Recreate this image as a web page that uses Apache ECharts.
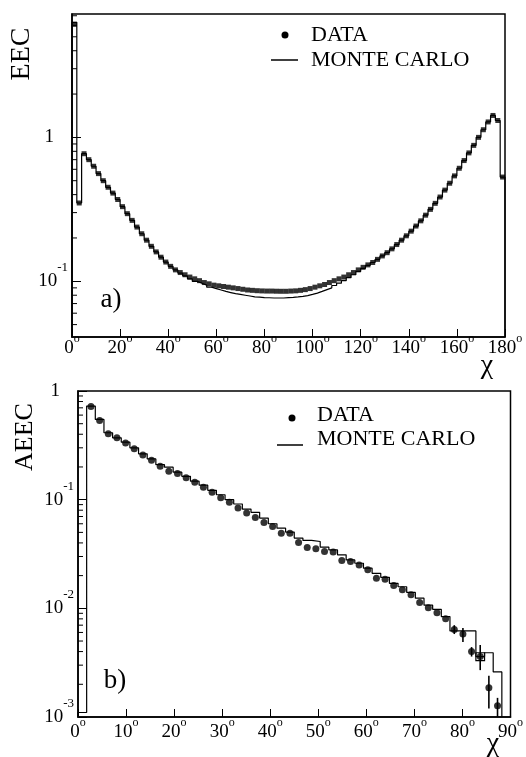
<!DOCTYPE html>
<html><head><meta charset="utf-8">
<script src="https://cdn.jsdelivr.net/npm/echarts@6/dist/echarts.min.js"></script>
<style>html,body{margin:0;padding:0;background:#fff}#c{width:526px;height:757px}</style>
</head><body><div id="c"></div>
<script>
// ---------- panel a) EEC : 90 bins of 2 degrees ----------
const EEC_START = 0, EEC_WIDTH = 2;
const EEC_YMIN = 0.041, EEC_YMAX = 7.2;
const eecData = [6.1, 0.35, 0.77, 0.70, 0.63, 0.56, 0.50, 0.45, 0.41, 0.37,
  0.33, 0.295, 0.265, 0.238, 0.214, 0.193, 0.175, 0.160, 0.147, 0.136,
  0.127, 0.120, 0.115, 0.111, 0.107, 0.104, 0.101, 0.098, 0.096, 0.094,
  0.093, 0.092, 0.091, 0.090, 0.089, 0.088, 0.087, 0.0865, 0.086, 0.0857,
  0.0855, 0.0855, 0.0853, 0.0852, 0.0852, 0.0855, 0.0858, 0.0865, 0.0875, 0.089,
  0.091, 0.093, 0.095, 0.098, 0.101, 0.104, 0.107, 0.111, 0.115, 0.120,
  0.125, 0.130, 0.135, 0.142, 0.150, 0.158, 0.168, 0.180, 0.193, 0.207,
  0.223, 0.242, 0.263, 0.288, 0.316, 0.348, 0.385, 0.43, 0.48, 0.54,
  0.61, 0.69, 0.78, 0.88, 1.0, 1.13, 1.28, 1.42, 1.31, 0.53];
const eecMC = [6.3, 0.35, 0.77, 0.70, 0.63, 0.56, 0.50, 0.45, 0.41, 0.37,
  0.33, 0.295, 0.265, 0.238, 0.214, 0.193, 0.175, 0.160, 0.147, 0.136,
  0.127, 0.120, 0.114, 0.109, 0.104, 0.100, 0.097, 0.094, 0.091, 0.089,
  0.087, 0.085, 0.0835, 0.082, 0.081, 0.080, 0.079, 0.078, 0.0775, 0.077,
  0.0768, 0.0765, 0.0765, 0.0765, 0.077, 0.0772, 0.0778, 0.0786, 0.0795, 0.081,
  0.0828, 0.085, 0.0875, 0.090, 0.0935, 0.097, 0.101, 0.106, 0.111, 0.117,
  0.123, 0.129, 0.135, 0.142, 0.150, 0.158, 0.168, 0.180, 0.193, 0.207,
  0.223, 0.242, 0.263, 0.288, 0.316, 0.348, 0.385, 0.43, 0.48, 0.54,
  0.61, 0.69, 0.78, 0.88, 1.0, 1.13, 1.28, 1.42, 1.31, 0.53];

// ---------- panel b) AEEC : bins of 1.8 degrees ----------
const AEEC_START = 0, AEEC_WIDTH = 1.8;
const AEEC_YMIN = 0.001, AEEC_YMAX = 1;
const aeecData = [null, 0.72, 0.536, 0.404, 0.371, 0.333, 0.294, 0.257, 0.231, 0.203,
  0.183, 0.174, 0.159, 0.145, 0.130, 0.117, 0.104, 0.0945, 0.0838, 0.0753,
  0.0687, 0.0618, 0.0567, 0.0492, 0.0492, 0.0404, 0.0363, 0.0353, 0.0334, 0.033,
  0.0275, 0.027, 0.0251, 0.0226, 0.0189, 0.0185, 0.0162, 0.0148, 0.0133, 0.0113,
  0.0101, 0.0091, 0.0080, 0.0064, 0.0058, 0.0040, 0.0036, 0.00186, 0.00127];
const aeecErrLo = [null, null, null, null, null, null, null, null, null, null,
  null, null, null, null, null, null, null, null, null, null,
  null, null, null, null, null, null, null, null, null, null,
  null, null, null, null, null, null, null, null, null, null,
  null, null, null, 0.0058, 0.0049, 0.0036, 0.0027, 0.0012, 0.00100];
const aeecErrHi = [null, null, null, null, null, null, null, null, null, null,
  null, null, null, null, null, null, null, null, null, null,
  null, null, null, null, null, null, null, null, null, null,
  null, null, null, null, null, null, null, null, null, null,
  null, null, null, 0.0070, 0.0066, 0.0044, 0.0046, 0.0024, 0.0015];
const aeecMC = [0.0011, 0.727, 0.548, 0.413, 0.371, 0.338, 0.300, 0.264, 0.237, 0.210,
  0.199, 0.179, 0.164, 0.148, 0.136, 0.122, 0.111, 0.100, 0.0912, 0.082,
  0.0764, 0.0677, 0.060, 0.0547, 0.0503, 0.0443, 0.0422, 0.0412, 0.0366, 0.0345,
  0.0311, 0.0279, 0.026, 0.0234, 0.021, 0.0193, 0.017, 0.0158, 0.014, 0.0124,
  0.0107, 0.0098, 0.0084, 0.0062, 0.0062, 0.0062, 0.0036, 0.0039, 0.0026];
const aeecMCErrLo = [null, null, null, null, null, null, null, null, null, null,
  null, null, null, null, null, null, null, null, null, null,
  null, null, null, null, null, null, null, null, null, null,
  null, null, null, null, null, null, null, null, null, null,
  null, null, null, null, null, null, 0.0033, null, null];
const aeecMCErrHi = [null, null, null, null, null, null, null, null, null, null,
  null, null, null, null, null, null, null, null, null, null,
  null, null, null, null, null, null, null, null, null, null,
  null, null, null, null, null, null, null, null, null, null,
  null, null, null, null, null, null, 0.0039, null, null];

const SERIF = 'Liberation Serif';

function histSteps(start, width, vals, floor) {
  const pts = [[start, floor]];
  vals.forEach((v, i) => pts.push([start + i * width, v]));
  const end = start + vals.length * width;
  pts.push([end, vals[vals.length - 1]]);
  pts.push([end, floor]);
  return pts;
}
function centers(start, width, vals) {
  return vals.map((v, i) => v == null ? null : [start + (i + 0.5) * width, v]).filter(p => p);
}
function errRows(start, width, lo, hi) {
  const out = [];
  lo.forEach((l, i) => { if (l != null) out.push([start + (i + 0.5) * width, l, hi[i]]); });
  return out;
}
function minorVals(lo, hi) {
  const out = [];
  for (let e = -4; e <= 1; e++) for (let m = 2; m <= 9; m++) {
    const v = m * Math.pow(10, e);
    if (v > lo && v < hi) out.push(v);
  }
  return out;
}
function yLabel(v) {
  const e = Math.round(Math.log10(v));
  if (Math.abs(Math.log10(v) - e) > 1e-6) return '';
  if (e === 0) return '{b|1}{p|}';
  return '{b|10}{s|' + e + '}';
}
const yRich = {
  b: { fontFamily: SERIF, fontSize: 19, color: '#000', lineHeight: 40, verticalAlign: 'middle' },
  s: { fontFamily: SERIF, fontSize: 13, color: '#000', lineHeight: 13, verticalAlign: 'top' },
  p: { width: 14, lineHeight: 40 }
};
const xRich = {
  b: { fontFamily: SERIF, fontSize: 19, color: '#000', lineHeight: 30, verticalAlign: 'middle' },
  s: { fontFamily: SERIF, fontSize: 12, color: '#000', lineHeight: 12, verticalAlign: 'top' }
};

function minorTickSeries(xIdx, yIdx, xAt, lo, hi, len) {
  return {
    type: 'custom', xAxisIndex: xIdx, yAxisIndex: yIdx, silent: true, clip: false,
    data: minorVals(lo, hi).map(v => [xAt, v]),
    renderItem: function (params, api) {
      const p = api.coord([api.value(0), api.value(1)]);
      return { type: 'line', shape: { x1: p[0], y1: p[1], x2: p[0] + len, y2: p[1] },
               style: { stroke: '#000', lineWidth: 1 } };
    }
  };
}
function errSeries(xIdx, yIdx, rows) {
  return {
    type: 'custom', xAxisIndex: xIdx, yAxisIndex: yIdx, silent: true,
    data: rows,
    renderItem: function (params, api) {
      const a = api.coord([api.value(0), api.value(1)]);
      const b = api.coord([api.value(0), api.value(2)]);
      return { type: 'line', shape: { x1: a[0], y1: a[1], x2: b[0], y2: b[1] },
               style: { stroke: '#000', lineWidth: 1.6 } };
    }
  };
}
function boxSeries(xIdx, yIdx, start, width, lo, hi) {
  const rows = [];
  lo.forEach((l, i) => { if (l != null) rows.push([start + i * width, start + (i + 1) * width, l, hi[i]]); });
  return {
    type: 'custom', xAxisIndex: xIdx, yAxisIndex: yIdx, silent: true, data: rows,
    renderItem: function (params, api) {
      const a = api.coord([api.value(0), api.value(3)]);
      const b = api.coord([api.value(1), api.value(2)]);
      return { type: 'rect', shape: { x: a[0], y: a[1], width: b[0] - a[0], height: b[1] - a[1] },
               style: { fill: 'none', stroke: '#000', lineWidth: 1.2 } };
    }
  };
}

const axisLineStyle = { color: '#000', width: 1.5 };

const option = {
  animation: false,
  backgroundColor: '#fff',
  grid: [
    { left: 72, right: 21, top: 14, height: 323, show: true, borderColor: '#000', borderWidth: 1.5, backgroundColor: 'transparent' },
    { left: 78, right: 13, top: 391, height: 326, show: true, borderColor: '#000', borderWidth: 1.5, backgroundColor: 'transparent' }
  ],
  xAxis: [
    { type: 'value', gridIndex: 0, min: 0, max: 180, interval: 20,
      axisLine: { lineStyle: axisLineStyle }, splitLine: { show: false },
      axisTick: { inside: true, length: 8, lineStyle: { color: '#000' } },
      axisLabel: { margin: -4, formatter: v => '{b|' + v + '}{s|o}', rich: xRich } },
    { type: 'value', gridIndex: 1, min: 0, max: 90, interval: 10,
      axisLine: { lineStyle: axisLineStyle }, splitLine: { show: false },
      axisTick: { inside: true, length: 8, lineStyle: { color: '#000' } },
      axisLabel: { margin: 0, formatter: v => '{b|' + v + '}{s|o}', rich: xRich } }
  ],
  yAxis: [
    { type: 'log', logBase: 10, gridIndex: 0, min: EEC_YMIN, max: EEC_YMAX,
      axisLine: { lineStyle: axisLineStyle }, splitLine: { show: false },
      axisTick: { inside: true, length: 9, lineStyle: { color: '#000' } },
      axisLabel: { margin: 4, formatter: yLabel, rich: yRich, showMinLabel: false, showMaxLabel: false } },
    { type: 'log', logBase: 10, gridIndex: 1, min: AEEC_YMIN, max: AEEC_YMAX,
      axisLine: { lineStyle: axisLineStyle }, splitLine: { show: false },
      axisTick: { inside: true, length: 9, lineStyle: { color: '#000' } },
      axisLabel: { margin: 4, formatter: yLabel, rich: yRich } }
  ],
  series: [
    { name: 'MONTE CARLO', type: 'line', xAxisIndex: 0, yAxisIndex: 0, step: 'end', symbol: 'none',
      clip: true, lineStyle: { color: '#000', width: 1.2 },
      data: histSteps(EEC_START, EEC_WIDTH, eecMC, EEC_YMIN) },
    { name: 'DATA', type: 'scatter', xAxisIndex: 0, yAxisIndex: 0, symbol: 'rect', symbolSize: 5,
      itemStyle: { color: '#000' }, data: centers(EEC_START, EEC_WIDTH, eecData) },
    minorTickSeries(0, 0, 0, EEC_YMIN, EEC_YMAX, 5),
    { name: 'MONTE CARLO', type: 'line', xAxisIndex: 1, yAxisIndex: 1, step: 'end', symbol: 'none',
      clip: true, lineStyle: { color: '#000', width: 1.2 },
      data: histSteps(AEEC_START, AEEC_WIDTH, aeecMC, AEEC_YMIN) },
    boxSeries(1, 1, AEEC_START, AEEC_WIDTH, aeecMCErrLo, aeecMCErrHi),
    errSeries(1, 1, errRows(AEEC_START, AEEC_WIDTH, aeecErrLo, aeecErrHi)),
    { name: 'DATA', type: 'scatter', xAxisIndex: 1, yAxisIndex: 1, symbol: 'circle', symbolSize: 7,
      itemStyle: { color: '#000' }, data: centers(AEEC_START, AEEC_WIDTH, aeecData) },
    minorTickSeries(1, 1, 0, AEEC_YMIN, AEEC_YMAX, 5)
  ],
  graphic: [
    // axis titles
    { type: 'text', x: 22, y: 54, rotation: Math.PI / 2,
      style: { text: 'EEC', font: '28px "Liberation Serif"', fill: '#000', align: 'center', verticalAlign: 'middle' } },
    { type: 'text', x: 25, y: 437, rotation: Math.PI / 2,
      style: { text: 'AEEC', font: '26px "Liberation Serif"', fill: '#000', align: 'center', verticalAlign: 'middle' } },
    { type: 'text', x: 487, y: 366,
      style: { text: 'χ', font: '28px "Liberation Serif"', fill: '#000', align: 'center', verticalAlign: 'middle' } },
    { type: 'text', x: 493, y: 744,
      style: { text: 'χ', font: '28px "Liberation Serif"', fill: '#000', align: 'center', verticalAlign: 'middle' } },
    // panel labels
    { type: 'text', x: 111, y: 300,
      style: { text: 'a)', font: '27px "Liberation Serif"', fill: '#000', align: 'center', verticalAlign: 'middle' } },
    { type: 'text', x: 115, y: 681,
      style: { text: 'b)', font: '27px "Liberation Serif"', fill: '#000', align: 'center', verticalAlign: 'middle' } },
    // legend a
    { type: 'circle', shape: { cx: 285, cy: 35, r: 3.5 }, style: { fill: '#000' } },
    { type: 'text', x: 311, y: 35, style: { text: 'DATA', font: '22px "Liberation Serif"', fill: '#000', verticalAlign: 'middle' } },
    { type: 'line', shape: { x1: 271, y1: 60, x2: 298, y2: 60 }, style: { stroke: '#000', lineWidth: 1.5 } },
    { type: 'text', x: 311, y: 60, style: { text: 'MONTE CARLO', font: '22px "Liberation Serif"', fill: '#000', verticalAlign: 'middle' } },
    // legend b
    { type: 'circle', shape: { cx: 292, cy: 418, r: 3.5 }, style: { fill: '#000' } },
    { type: 'text', x: 317, y: 415, style: { text: 'DATA', font: '22px "Liberation Serif"', fill: '#000', verticalAlign: 'middle' } },
    { type: 'line', shape: { x1: 277, y1: 445, x2: 303, y2: 445 }, style: { stroke: '#000', lineWidth: 1.5 } },
    { type: 'text', x: 317, y: 439, style: { text: 'MONTE CARLO', font: '22px "Liberation Serif"', fill: '#000', verticalAlign: 'middle' } }
  ]
};
const chart = echarts.init(document.getElementById('c'), null, { renderer: 'canvas' });
chart.setOption(option);
</script>
</body></html>
